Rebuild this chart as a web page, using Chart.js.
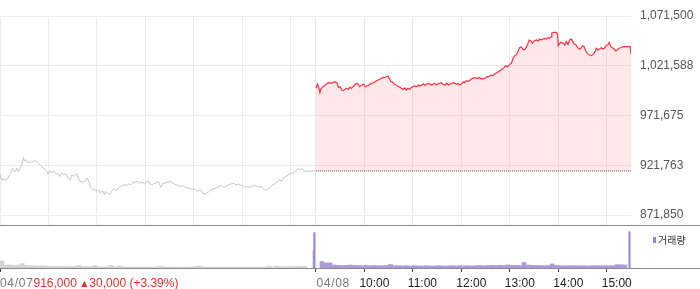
<!DOCTYPE html>
<html>
<head>
<meta charset="utf-8">
<script src="https://cdn.jsdelivr.net/npm/chart.js@4.4.1/dist/chart.umd.min.js"></script>
<style>
  body { margin: 0; background: #fff; }
  canvas { display: block; }
</style>
</head>
<body>
<canvas id="priceChart" width="700" height="226"></canvas>
<canvas id="volumeChart" width="700" height="63"></canvas>
<script>
// Axis labels
const dayLabels = ['04/07', '04/08'];
const hourLabels = ['10:00', '11:00', '12:00', '13:00', '14:00', '15:00'];
const priceTicks = [871850, 921763, 971675, 1021588, 1071500];
const prevClose = 916000;
const summaryParts = ['916,000', '▲', '30,000 (+3.39%)'];
const legendLabel = '거래량';

// 04/07 price
const day1Times = ['09:00','09:02','09:05','09:07','09:10','09:12','09:16','09:19','09:21','09:23','09:25','09:27','09:29','09:30','09:32','09:35','09:37','09:39','09:41','09:44','09:47','09:51','09:56','09:58',
  '10:00','10:02','10:04','10:06','10:09','10:12','10:14','10:16','10:19','10:22','10:24','10:27','10:29','10:31','10:33','10:35','10:37','10:39','10:41','10:45','10:48','10:50','10:52','10:55','10:57',
  '11:00','11:02','11:04','11:07','11:09','11:11','11:14','11:16','11:18','11:21','11:24','11:27','11:30','11:33','11:37','11:39','11:42','11:44','11:47','11:50','11:53','11:56','11:59',
  '12:01','12:03','12:05','12:07','12:10','12:13','12:16','12:19','12:21','12:24','12:28','12:31','12:34','12:37','12:40','12:43','12:46','12:49','12:52','12:56','12:59',
  '13:01','13:03','13:05','13:07','13:09','13:11','13:14','13:16','13:19','13:22','13:25','13:29','13:32','13:34','13:37','13:40','13:43','13:46','13:49','13:52','13:55','13:58',
  '14:02','14:03','14:06','14:09','14:11','14:15','14:18','14:21','14:24','14:26','14:29','14:31','14:35','14:37','14:40','14:44','14:46','14:49','14:51','14:54','14:57','14:59',
  '15:02','15:04','15:08','15:09','15:12','15:15','15:17','15:20','15:30'];
const day1Prices = [912300,907300,908300,906300,909000,912300,918300,915000,919000,915700,919700,922300,929700,925700,927400,924000,925700,924000,925700,926700,924000,920700,917300,915700,
  913000,916300,914000,915700,914000,913000,910600,914000,912300,913000,909000,907300,912300,910600,912300,913000,909000,905600,905000,905600,909000,905600,899600,897300,897300,
  895600,897300,893900,896300,892300,895600,892900,892300,895600,898300,896300,899600,900600,902300,901600,903000,902300,904000,905000,905600,904000,905000,903000,
  905000,906600,904000,902300,903000,904000,905600,899600,903000,904000,905000,905600,904000,902300,901600,900600,901300,899600,899000,898300,897300,
  898300,896300,895600,897300,896300,893900,892900,893900,895600,897300,898300,899600,900600,901600,899600,900600,902300,903000,903600,902300,903000,901600,
  900600,899600,900600,899600,900600,901600,900600,899600,900600,898300,896300,898300,899600,901600,903000,905600,907300,905600,909000,910600,912300,914000,
  913000,915000,917300,918300,917300,918300,915700,916000,916000];

// 04/08 price
const day2Times = ['09:00','09:02','09:03','09:05','09:06','09:08','09:10','09:13','09:16','09:19','09:23','09:26','09:28','09:30','09:32','09:34','09:36','09:38','09:40','09:42','09:44','09:46','09:48','09:50','09:52','09:54','09:57','09:59',
  '10:01','10:03','10:05','10:07','10:09','10:11','10:13','10:15','10:17','10:19','10:21','10:23','10:25','10:27','10:29','10:32','10:33','10:35','10:37','10:39','10:41','10:43','10:44','10:46','10:48','10:50','10:52','10:54','10:56','10:58',
  '11:00','11:02','11:05','11:07','11:09','11:11','11:13','11:15','11:17','11:19','11:21','11:23','11:25','11:27','11:29','11:31','11:33','11:35','11:37','11:40','11:42','11:44','11:46','11:48','11:50','11:52','11:54','11:56','11:58',
  '12:00','12:02','12:04','12:06','12:08','12:10','12:13','12:16','12:19','12:22','12:26','12:29','12:32','12:34','12:37','12:39','12:41','12:43','12:45','12:47','12:49','12:51','12:53','12:55','12:57',
  '13:00','13:02','13:04','13:06','13:08','13:10','13:12','13:14','13:16','13:18','13:20','13:22','13:24','13:26','13:28','13:30','13:33','13:35','13:37','13:39','13:41','13:43','13:45','13:47','13:49','13:51','13:52','13:55','13:57','13:59',
  '14:00','14:01','14:03','14:06','14:08','14:10','14:12','14:14','14:16','14:18','14:20','14:22','14:24','14:26','14:28','14:30','14:32','14:34','14:36','14:39','14:41','14:43','14:45','14:47','14:49','14:51','14:53','14:55','14:57','14:59',
  '15:01','15:03','15:05','15:07','15:09','15:11','15:13','15:15','15:17','15:19','15:20','15:29','15:30'];
const day2Prices = [999000,1003300,1001300,994600,997900,999900,1001300,1003300,1004600,1003900,1005600,1004600,999900,1000600,997300,996600,997900,999000,997900,999900,999000,1000600,1002300,1003900,1003300,1000600,1002300,1003300,
  1000600,1001300,1001900,1003300,1003900,1004600,1005600,1006600,1007300,1008000,1009000,1010000,1009600,1010600,1011300,1007300,1005600,1005300,1003300,1002300,1001300,1000600,999900,999000,997900,999300,997300,999000,997900,999900,
  1000600,1001300,1000600,1002300,1001300,1002600,1003300,1001900,1003300,1003900,1003300,1002300,1003300,1003900,1002300,1003300,1003900,1004600,1003300,1002300,1003900,1002300,1003300,1003900,1004600,1003900,1003300,1003900,1002300,
  1003300,1005600,1004600,1006600,1006000,1006600,1008600,1009600,1009000,1009600,1008300,1009000,1010600,1010600,1012300,1011600,1013000,1014000,1015000,1016300,1017300,1018300,1019700,1021700,1020700,
  1023000,1024000,1029000,1031700,1032400,1035700,1039700,1040700,1038400,1037400,1039700,1043100,1047400,1046400,1044100,1046400,1047400,1046400,1048400,1047400,1048400,1049100,1048400,1049800,1049100,1050800,1054400,1055100,1055100,1054100,
  1041700,1043100,1045100,1044100,1042400,1045800,1043100,1047400,1048400,1045800,1043100,1042400,1039700,1038400,1039100,1041700,1040700,1036400,1034000,1032400,1031700,1033000,1035000,1039100,1037400,1038400,1039700,1038400,1039100,1041700,
  1042400,1045100,1040700,1039700,1038400,1036400,1037400,1039100,1039700,1040400,1040700,1040700,1033000];

// Volume, 5-minute bins (shares)
const volTimes = ['09:00','09:05','09:10','09:15','09:20','09:25','09:30','09:35','09:40','09:45','09:50','09:55',
  '10:00','10:05','10:10','10:15','10:20','10:25','10:30','10:35','10:40','10:45','10:50','10:55',
  '11:00','11:05','11:10','11:15','11:20','11:25','11:30','11:35','11:40','11:45','11:50','11:55',
  '12:00','12:05','12:10','12:15','12:20','12:25','12:30','12:35','12:40','12:45','12:50','12:55',
  '13:00','13:05','13:10','13:15','13:20','13:25','13:30','13:35','13:40','13:45','13:50','13:55',
  '14:00','14:05','14:10','14:15','14:20','14:25','14:30','14:35','14:40','14:45','14:50','14:55',
  '15:00','15:05','15:10','15:15'];
const day1Volumes = [3500,1500,1500,1350,1500,2250,1250,1150,1150,1000,1150,1000,
  850,850,750,850,750,750,750,1250,650,750,650,1250,
  650,650,600,1300,650,1000,600,500,500,500,500,500,
  500,500,500,900,500,500,500,500,500,500,500,500,
  900,900,500,500,500,500,500,500,500,500,500,500,
  500,500,500,500,500,500,900,500,900,600,600,750,
  750,850,850,750];
const day2Volumes = [3250,2500,2500,1500,1350,1250,1350,1500,1250,1250,1150,1250,
  1150,1250,1150,1150,1250,1750,1150,1150,1000,1150,1000,1150,
  1000,1000,1150,1000,1000,1150,1000,1000,1150,1000,1150,1000,
  1150,1000,1150,1250,1150,1250,1350,1250,1350,1250,1500,1350,
  1350,1250,2750,1500,1350,1250,1250,1150,1250,2000,1250,1150,
  1150,1150,1150,1150,1150,1150,1000,1150,1150,1150,1150,1150,
  1150,1650,1650,1500];
// single-price auction prints
const auctionDays = [0, 1, 1];
const auctionTimes = ['15:30', '09:00', '15:30'];
const auctionVolumes = [8650, 17650, 18150];

// minute index across both sessions (09:00-15:30 each)
const DAY_LEN = 391;
function toIndex(day, hhmm) {
  const [h, m] = hhmm.split(':').map(Number);
  return day * DAY_LEN + (h - 9) * 60 + m;
}
const X_MAX = toIndex(1, '15:30');

const gridTicks = [];
[0, 1].forEach(d => {
  gridTicks.push(toIndex(d, '09:00'));
  hourLabels.forEach(h => gridTicks.push(toIndex(d, h)));
});
const axisTicks = [
  { value: toIndex(0, '09:00'), label: dayLabels[0], kind: 'day' },
  { value: toIndex(1, '09:00'), label: dayLabels[1], kind: 'day' },
  ...hourLabels.map(h => ({ value: toIndex(1, h), label: h, kind: 'hour' }))
];

const RIGHT_AXIS_W = 69;
const GRID = '#ebebeb';
const RED = '#ff3041';
const PURPLE = '#9a87cf';

const separator = {
  id: 'separator',
  afterDraw(chart) {
    const { ctx, chartArea } = chart;
    ctx.save();
    ctx.strokeStyle = '#8a8a8a';
    ctx.lineWidth = 1;
    ctx.beginPath();
    ctx.moveTo(0, chartArea.bottom + 0.5);
    ctx.lineTo(chart.width, chartArea.bottom + 0.5);
    ctx.stroke();
    ctx.restore();
  }
};

// price chart
new Chart(document.getElementById('priceChart'), {
  type: 'line',
  data: {
    datasets: [
      {
        data: [{ x: toIndex(1, '09:00'), y: prevClose }, { x: X_MAX, y: prevClose }],
        borderColor: '#555',
        borderWidth: 1,
        borderDash: [1, 1],
        pointRadius: 0,
        fill: false,
        order: 0
      },
      {
        data: day2Times.map((t, i) => ({ x: toIndex(1, t), y: day2Prices[i] })),
        borderColor: RED,
        borderWidth: 1.2,
        backgroundColor: 'rgba(255, 40, 60, 0.11)',
        fill: { value: prevClose },
        pointRadius: 0,
        tension: 0,
        order: 1
      },
      {
        data: day1Times.map((t, i) => ({ x: toIndex(0, t), y: day1Prices[i] })),
        borderColor: '#c4c4ca',
        borderWidth: 1,
        pointRadius: 0,
        fill: false,
        tension: 0,
        order: 2
      }
    ]
  },
  options: {
    responsive: false,
    animation: false,
    devicePixelRatio: 1,
    layout: { padding: { top: 16, bottom: 1, left: 0, right: 0 } },
    plugins: { legend: { display: false }, tooltip: { enabled: false } },
    scales: {
      x: {
        type: 'linear',
        min: 0,
        max: X_MAX,
        offset: false,
        afterBuildTicks: s => { s.ticks = gridTicks.map(v => ({ value: v })); },
        afterFit: s => { s.height = 0; s.paddingLeft = 0; s.paddingRight = 0; },
        ticks: { display: false },
        grid: { color: GRID, drawTicks: false },
        border: { display: false }
      },
      y: {
        position: 'right',
        min: priceTicks[0] - (priceTicks[1] - priceTicks[0]) * 0.2,
        max: priceTicks[priceTicks.length - 1],
        afterBuildTicks: s => { s.ticks = priceTicks.map(v => ({ value: v })); },
        afterFit: s => { s.width = RIGHT_AXIS_W; s.paddingTop = 0; s.paddingBottom = 0; },
        ticks: {
          padding: 9,
          color: '#555',
          font: { family: '"Liberation Sans", Arial, sans-serif', size: 12 },
          callback: v => Number(v).toLocaleString('en-US')
        },
        grid: { color: GRID, drawTicks: false },
        border: { display: false }
      }
    }
  },
  plugins: [separator]
});

// volume chart labels and legend
const volumeLabels = {
  id: 'volumeLabels',
  afterDraw(chart) {
    const { ctx } = chart;
    const xs = chart.scales.x;
    const baseY = 61;
    ctx.save();
    ctx.font = '12px "Liberation Sans", Arial, sans-serif';
    ctx.textBaseline = 'alphabetic';
    ctx.textAlign = 'left';
    axisTicks.forEach(t => {
      const px = xs.getPixelForValue(t.value);
      if (t.kind === 'day') {
        ctx.fillStyle = '#777';
        ctx.letterSpacing = '0.7px';
        ctx.fillText(t.label, px + (t.value === 0 ? 0 : 0.5), baseY);
        ctx.letterSpacing = '0px';
      } else {
        ctx.fillStyle = '#222';
        ctx.fillText(t.label, px - 5, baseY);
      }
    });
    // summary right after the first date
    let x = 33.5;
    ctx.fillStyle = '#ee2b2b';
    ctx.fillText(summaryParts[0], x, baseY);
    x += ctx.measureText(summaryParts[0] + ' ').width + 1;
    ctx.font = '8px "DejaVu Sans", sans-serif';
    ctx.fillText(summaryParts[1], x, baseY - 1);
    x += ctx.measureText(summaryParts[1]).width + 2;
    ctx.font = '12px "Liberation Sans", Arial, sans-serif';
    ctx.fillText(summaryParts[2], x, baseY);
    // legend
    ctx.fillStyle = PURPLE;
    ctx.fillRect(653, 11, 3, 6);
    ctx.fillStyle = '#333';
    ctx.font = '10px "Noto Sans CJK KR", sans-serif';
    ctx.textBaseline = 'middle';
    ctx.fillText(legendLabel, 658, 14);
    ctx.restore();
  }
};

const binCenter = t => t + 2.5;
new Chart(document.getElementById('volumeChart'), {
  type: 'bar',
  data: {
    datasets: [
      {
        data: auctionTimes.map((t, i) => ({ x: toIndex(auctionDays[i], t), y: auctionVolumes[i] })),
        backgroundColor: auctionDays.map(d => d === 0 ? '#c4c4c4' : PURPLE),
        barThickness: 1.5,
        order: 0
      },
      {
        data: volTimes.map((t, i) => ({ x: binCenter(toIndex(0, t)), y: day1Volumes[i] })),
        backgroundColor: '#d4d4d4',
        barThickness: 4,
        order: 1
      },
      {
        data: volTimes.map((t, i) => ({ x: binCenter(toIndex(1, t)), y: day2Volumes[i] })),
        backgroundColor: '#ab9bd8',
        barThickness: 4,
        order: 1
      }
    ]
  },
  options: {
    responsive: false,
    animation: false,
    devicePixelRatio: 1,
    layout: { padding: { top: 0, bottom: 0, left: 0, right: RIGHT_AXIS_W } },
    plugins: { legend: { display: false }, tooltip: { enabled: false } },
    scales: {
      x: {
        type: 'linear',
        min: 0,
        max: X_MAX,
        offset: false,
        afterBuildTicks: s => { s.ticks = axisTicks.map(t => ({ value: t.value })); },
        afterFit: s => { s.height = 21; s.paddingLeft = 0; s.paddingRight = 0; },
        ticks: { display: false },
        grid: { drawOnChartArea: false, drawTicks: true, tickLength: 4, tickColor: '#444', offset: false },
        border: { display: false }
      },
      y: {
        display: false,
        min: 0,
        max: 21000
      }
    }
  },
  plugins: [separator, volumeLabels]
});
</script>
</body>
</html>
